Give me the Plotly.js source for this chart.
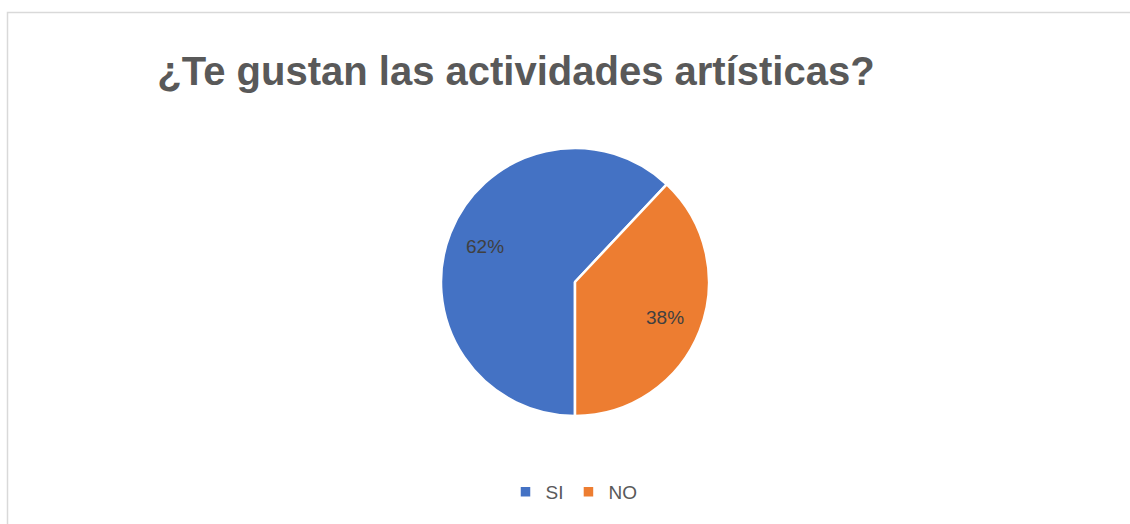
<!DOCTYPE html>
<html>
<head>
<meta charset="utf-8">
<script src="https://cdn.plot.ly/plotly-3.0.1.min.js"></script>
<style>
html,body{margin:0;padding:0;background:#fff;}
#chart{width:1130px;height:524px;}
</style>
</head>
<body>
<div id="chart"></div>
<script>
const categories = ["SI", "NO"];
const values = [62, 38];
const colors = ["#4472C4", "#ED7D31"];
const chartTitle = "¿Te gustan las actividades artísticas?";

const W = 1130, H = 524;
const cx = 575, cy = 282, r = 134;
const startAngle = 180; // degrees clockwise from 12 o'clock

// data label positions derived from the values (slice mid-angles)
const total = values.reduce((a, b) => a + b, 0);
const labelAnnotations = [];
let acc = 0;
values.forEach((v, i) => {
  const mid = (startAngle + (acc + v / 2) / total * 360) * Math.PI / 180;
  acc += v;
  const lr = r * 0.72;
  const px = cx + Math.sin(mid) * lr;
  const py = cy - Math.cos(mid) * lr;
  labelAnnotations.push({
    x: px / W, y: 1 - py / H, xref: "paper", yref: "paper",
    text: Math.round(v / total * 100) + "%",
    showarrow: false, xanchor: "center", yanchor: "middle",
    font: { family: "Liberation Sans, Arial, sans-serif", size: 19, color: "#404040" }
  });
});

const trace = {
  type: "pie",
  labels: categories,
  values: values,
  sort: false,
  direction: "clockwise",
  rotation: startAngle,
  marker: { colors: colors, line: { color: "#ffffff", width: 2.5 } },
  textinfo: "none",
  textposition: "none",
  hoverinfo: "label+percent",
  domain: {
    x: [(cx - r) / W, (cx + r) / W],
    y: [1 - (cy + r) / H, 1 - (cy - r) / H]
  }
};

const layout = {
  width: W,
  height: H,
  margin: { l: 0, r: 0, t: 0, b: 0 },
  paper_bgcolor: "#ffffff",
  plot_bgcolor: "#ffffff",
  title: {
    text: "<b>" + chartTitle + "</b>",
    font: { family: "Liberation Sans, Arial, sans-serif", size: 40, color: "#595959" },
    x: 516 / W,
    xanchor: "center",
    xref: "paper",
    y: 1 - 71 / H,
    yanchor: "middle",
    yref: "paper"
  },
  showlegend: true,
  legend: {
    orientation: "h",
    x: 574 / W,
    xanchor: "center",
    y: 1 - 492 / H,
    yanchor: "middle",
    font: { family: "Liberation Sans, Arial, sans-serif", size: 19, color: "#595959" },
    itemwidth: 30,
    bgcolor: "rgba(0,0,0,0)"
  },
  annotations: labelAnnotations,
  shapes: [{
    type: "rect",
    xref: "paper", yref: "paper",
    x0: 7.5 / W, x1: 1.02,
    y0: -0.02, y1: 1 - 12.5 / H,
    line: { color: "#d9d9d9", width: 1.5 },
    fillcolor: "rgba(0,0,0,0)",
    layer: "below"
  }]
};

Plotly.newPlot("chart", [trace], layout, { displayModeBar: false, staticPlot: true });
</script>
</body>
</html>
